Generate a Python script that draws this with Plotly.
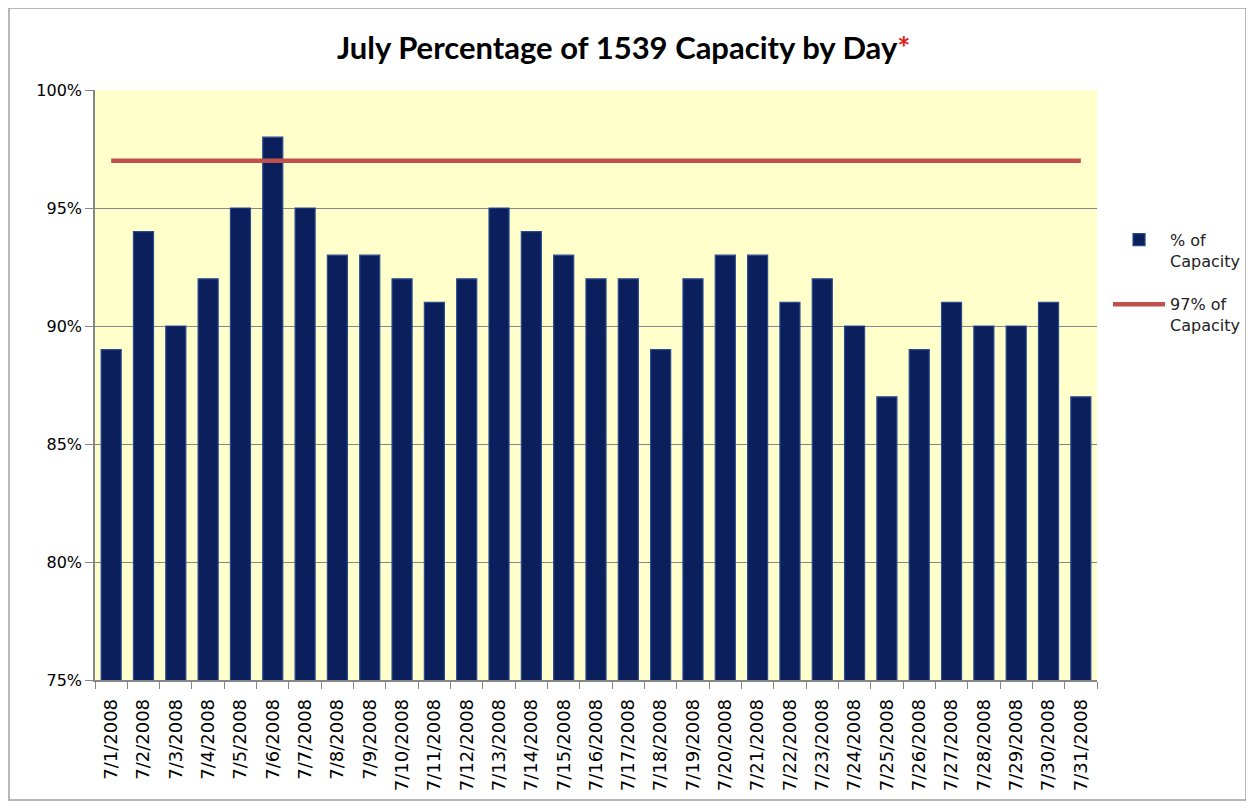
import plotly.graph_objects as go

dates = [f"7/{d}/2008" for d in range(1, 32)]
pct_capacity = [89, 94, 90, 92, 95, 98, 95, 93, 93, 92, 91, 92, 95, 94, 93, 92,
                92, 89, 92, 93, 93, 91, 92, 90, 87, 89, 91, 90, 90, 91, 87]
target = [97] * len(dates)

fig = go.Figure()
fig.add_trace(go.Bar(
    x=dates, y=pct_capacity, name="% of<br>Capacity", legendgroup="a",
    marker=dict(color="#0A1F5C", line=dict(color="#2B4A8F", width=1.2)),
))
fig.add_trace(go.Scatter(
    x=dates, y=target, name="97% of<br>Capacity", mode="lines", legendgroup="b",
    line=dict(color="#C0504D", width=4.5),
))

fig.update_layout(
    width=1254, height=808,
    margin=dict(l=87, r=165, t=82, b=136),
    paper_bgcolor="white", plot_bgcolor="#FFFFCC",
    bargap=0.38,
    title=dict(text="July Percentage of 1539 Capacity by Day<span style='color:#E0201B'>*</span>",
               x=0.491, xanchor="center", y=0.95, yanchor="middle",
               font=dict(family="Lato", size=31, color="black", weight="bold")),
    font=dict(family="DejaVu Sans", size=16, color="black"),
    legend=dict(x=1.011, y=0.775, xanchor="left", yanchor="top", valign="top",
                traceorder="grouped", tracegroupgap=20, itemwidth=52,
                font=dict(family="DejaVu Sans", size=16, color="#222"),
                bgcolor="rgba(0,0,0,0)"),
    shapes=[dict(type="rect", xref="paper", yref="paper",
                 x0=-0.0858, x1=1.1487, y0=-0.2034, y1=1.139,
                 line=dict(color="#A0A0A0", width=1.5), layer="below")],
)
fig.update_xaxes(
    type="category", tickangle=-90, tickson="boundaries",
    ticks="outside", ticklen=7, tickcolor="#868686", ticklabelstandoff=10,
    showline=True, linecolor="#868686", linewidth=1.5, mirror=False,
    showgrid=False, tickfont=dict(family="DejaVu Sans", size=18),
)
fig.update_yaxes(
    range=[75, 100], dtick=5, ticksuffix="%",
    ticks="outside", ticklen=8, tickcolor="#868686",
    showline=True, linecolor="#868686", linewidth=1.5,
    showgrid=True, gridcolor="#868686", gridwidth=1,
    tickfont=dict(family="DejaVu Sans", size=16), zeroline=False,
)

fig.write_html("out.html")
